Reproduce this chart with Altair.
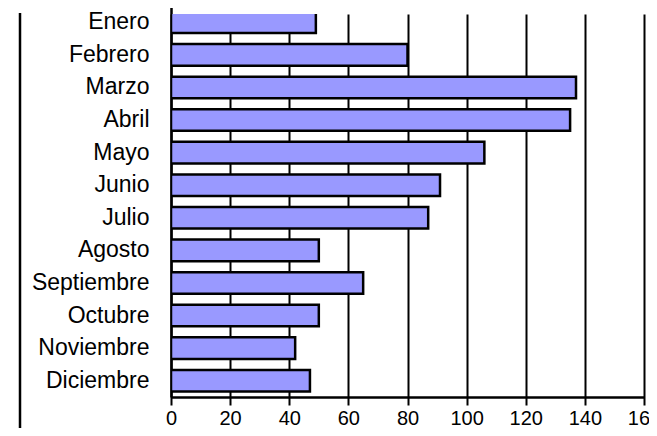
import altair as alt
import pandas as pd

months = ["Enero", "Febrero", "Marzo", "Abril", "Mayo", "Junio", "Julio",
          "Agosto", "Septiembre", "Octubre", "Noviembre", "Diciembre"]
values = [49, 80, 137, 135, 106, 91, 87, 50, 65, 50, 42, 47]
x_ticks = [0, 20, 40, 60, 80, 100, 120, 140, 160]

df = pd.DataFrame({"mes": months, "valor": values})

W, H = 473, 383
FONT = "Liberation Sans"

bars = alt.Chart(df).mark_bar(
    fill="#9999FF", stroke="black", strokeWidth=2.5, clip=True
).encode(
    x=alt.X("valor:Q",
            scale=alt.Scale(domain=[0, 160], nice=False, zero=True),
            axis=alt.Axis(values=x_ticks, title=None, grid=True,
                          gridColor="black", gridWidth=2, gridOpacity=1,
                          ticks=False, domainColor="black", domainWidth=2.5,
                          labelFont=FONT, labelFontSize=20, labelColor="black",
                          labelPadding=11, labelFlush=False)),
    y=alt.Y("mes:N", sort=months,
            scale=alt.Scale(range=[-8, H], paddingInner=0.34, paddingOuter=0.17),
            axis=alt.Axis(title=None, ticks=False, grid=False,
                          domainColor="black", domainWidth=2.5,
                          labelFont=FONT, labelFontSize=23, labelColor="black",
                          labelPadding=22)),
)

left_line = alt.Chart(pd.DataFrame({"a": [0]})).mark_rule(
    color="black", strokeWidth=2.5
).encode(
    x=alt.value(-151),
    y=alt.value(-1),
    y2=alt.value(H + 40),
)

chart = alt.layer(bars, left_line).properties(
    width=W, height=H,
    autosize=alt.AutoSizeParams(type="none"),
    padding={"left": 163, "top": 6, "right": 5, "bottom": 31},
).configure_view(stroke=None)

chart.save("out.html", embed_options={"renderer": "svg", "actions": False})
